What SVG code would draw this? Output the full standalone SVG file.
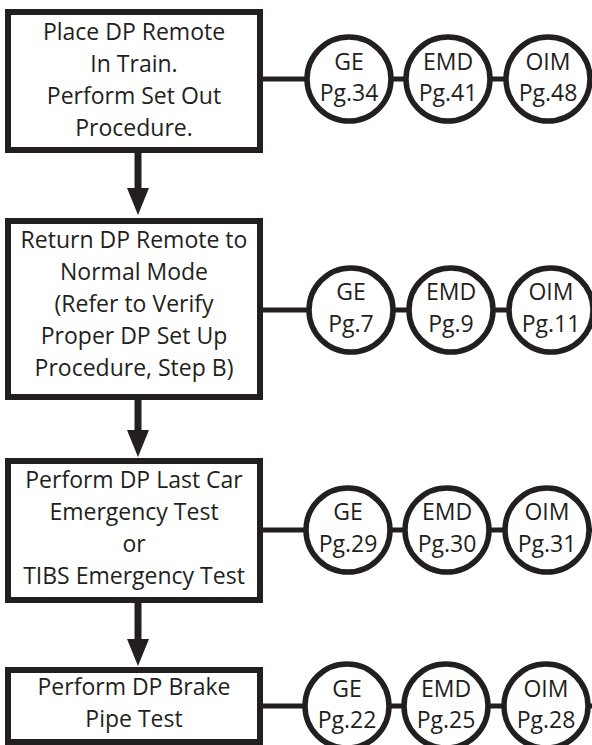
<svg xmlns="http://www.w3.org/2000/svg" width="592" height="745" viewBox="0 0 592 745">
<style>
.box{fill:#fff;stroke:#231f20;stroke-width:6}
.c{fill:#fff;stroke:#231f20;stroke-width:5.5}
.t{font-family:"Open Sans","Liberation Sans",sans-serif;font-size:23px;fill:#231f20;text-anchor:middle}
.ln{stroke:#231f20;stroke-width:5;fill:none}
.sh{stroke:#231f20;stroke-width:7;fill:none}
.hd{fill:#231f20}
</style>
<rect width="592" height="745" fill="#fff"/>
<g id="connectors">
<line class="ln" x1="260" y1="79" x2="592" y2="79"/>
<line class="ln" x1="260" y1="310" x2="592" y2="310"/>
<line class="ln" x1="260" y1="530" x2="592" y2="530"/>
<line class="ln" x1="260" y1="706" x2="592" y2="706"/>
<line class="sh" x1="138" y1="150" x2="138" y2="190"/>
<polygon class="hd" points="127,188 149,188 138,215"/>
<line class="sh" x1="138" y1="397" x2="138" y2="432"/>
<polygon class="hd" points="127,430 149,430 138,457"/>
<line class="sh" x1="138" y1="600" x2="138" y2="641"/>
<polygon class="hd" points="127,639 149,639 138,666"/>
</g>
<g id="box1">
<rect class="box" x="8" y="12" width="252" height="138"/>
<text class="t" x="134" y="40">Place DP Remote</text>
<text class="t" x="134" y="72">In Train.</text>
<text class="t" x="134" y="104">Perform Set Out</text>
<text class="t" x="134" y="136">Procedure.</text>
</g>
<g id="box2">
<rect class="box" x="8" y="221" width="252" height="176"/>
<text class="t" x="134" y="248">Return DP Remote to</text>
<text class="t" x="134" y="280">Normal Mode</text>
<text class="t" x="134" y="312">(Refer to Verify</text>
<text class="t" x="134" y="344">Proper DP Set Up</text>
<text class="t" x="134" y="376">Procedure, Step B)</text>
</g>
<g id="box3">
<rect class="box" x="8" y="461" width="252" height="139"/>
<text class="t" x="134" y="488">Perform DP Last Car</text>
<text class="t" x="134" y="520">Emergency Test</text>
<text class="t" x="134" y="552">or</text>
<text class="t" x="134" y="584">TIBS Emergency Test</text>
</g>
<g id="box4">
<rect class="box" x="8" y="670" width="252" height="72"/>
<text class="t" x="134" y="695">Perform DP Brake</text>
<text class="t" x="134" y="727">Pipe Test</text>
</g>
<g id="r1ge"><circle class="c" cx="349" cy="79" r="42"/><text class="t" x="349" y="70">GE</text><text class="t" x="349" y="101">Pg.34</text></g>
<g id="r1emd"><circle class="c" cx="448" cy="79" r="42"/><text class="t" x="448" y="70">EMD</text><text class="t" x="448" y="101">Pg.41</text></g>
<g id="r1oim"><circle class="c" cx="548" cy="79" r="42"/><text class="t" x="548" y="70">OIM</text><text class="t" x="548" y="101">Pg.48</text></g>
<g id="r2ge"><circle class="c" cx="351" cy="310" r="42"/><text class="t" x="351" y="300">GE</text><text class="t" x="351" y="332">Pg.7</text></g>
<g id="r2emd"><circle class="c" cx="451" cy="310" r="42"/><text class="t" x="451" y="300">EMD</text><text class="t" x="451" y="332">Pg.9</text></g>
<g id="r2oim"><circle class="c" cx="551" cy="310" r="42"/><text class="t" x="551" y="300">OIM</text><text class="t" x="551" y="332">Pg.11</text></g>
<g id="r3ge"><circle class="c" cx="348" cy="530" r="42"/><text class="t" x="348" y="520">GE</text><text class="t" x="348" y="552">Pg.29</text></g>
<g id="r3emd"><circle class="c" cx="447" cy="530" r="42"/><text class="t" x="447" y="520">EMD</text><text class="t" x="447" y="552">Pg.30</text></g>
<g id="r3oim"><circle class="c" cx="547" cy="530" r="42"/><text class="t" x="547" y="520">OIM</text><text class="t" x="547" y="552">Pg.31</text></g>
<g id="r4ge"><circle class="c" cx="347" cy="706" r="42"/><text class="t" x="347" y="697">GE</text><text class="t" x="347" y="728">Pg.22</text></g>
<g id="r4emd"><circle class="c" cx="446" cy="706" r="42"/><text class="t" x="446" y="697">EMD</text><text class="t" x="446" y="728">Pg.25</text></g>
<g id="r4oim"><circle class="c" cx="546" cy="706" r="42"/><text class="t" x="546" y="697">OIM</text><text class="t" x="546" y="728">Pg.28</text></g>
</svg>
